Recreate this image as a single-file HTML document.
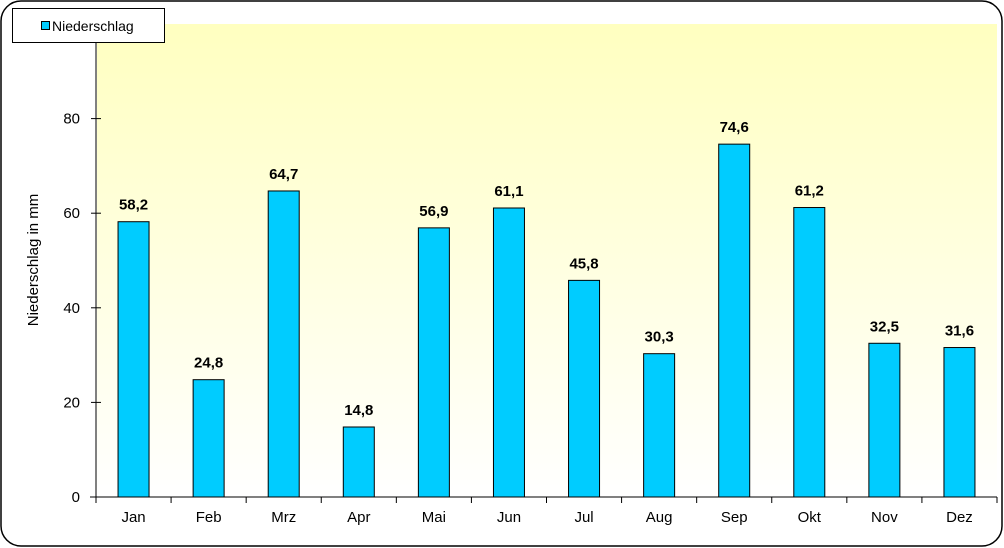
<!DOCTYPE html>
<html><head><meta charset="utf-8"><style>
body{margin:0;background:#fff;}
svg{display:block;font-family:"Liberation Sans",sans-serif;}
</style></head><body>
<svg width="1004" height="548">
<defs><linearGradient id="bg" x1="0" y1="0" x2="0" y2="1"><stop offset="0" stop-color="#ffffc0"/><stop offset="1" stop-color="#ffffff"/></linearGradient></defs>
<rect x="1" y="1" width="1001" height="545" rx="20" fill="#fff" stroke="#000" stroke-width="1.5"/>
<rect x="97" y="24" width="900" height="473" fill="url(#bg)"/>
<g id="bars"></g>
<g id="axes"></g>
<text transform="translate(38,260) rotate(-90)" text-anchor="middle" font-size="15" fill="#000">Niederschlag in mm</text>
<g>
<rect x="12.5" y="8.5" width="152" height="34" fill="#fff" stroke="#000"/>
<rect x="41.5" y="21.5" width="8" height="8" fill="#00ccff" stroke="#000"/>
<text x="52" y="31" font-size="14" fill="#000">Niederschlag</text>
</g>
</svg>
<script>
const categories=["Jan","Feb","Mrz","Apr","Mai","Jun","Jul","Aug","Sep","Okt","Nov","Dez"];
const values=[58.2,24.8,64.7,14.8,56.9,61.1,45.8,30.3,74.6,61.2,32.5,31.6];
const yTicks=[0,20,40,60,80];
const NS="http://www.w3.org/2000/svg";
const x0=96,x1=997,y0=497,yTop=24,yMax=100;
const cw=(x1-x0)/categories.length;
const ys=v=>y0-(y0-yTop)*v/yMax;
const xs=i=>x0+cw*(i+0.5);
function mk(t,a,p){const e=document.createElementNS(NS,t);for(const k in a)e.setAttribute(k,a[k]);p.appendChild(e);return e;}
const bars=document.getElementById('bars'),axes=document.getElementById('axes');
values.forEach((v,i)=>{
 const r=mk('rect',{x:xs(i)-15.5,y:ys(v),width:31,height:y0-ys(v),fill:'#00ccff',stroke:'#000','stroke-width':1},bars);
 
 
 const t=mk('text',{x:xs(i),y:ys(v)-12,'text-anchor':'middle','font-size':15,'font-weight':'bold'},bars);
 t.textContent=v.toFixed(1).replace('.',',');
 
 
});
mk('line',{x1:x0,y1:yTop,x2:x0,y2:y0,stroke:'#000'},axes);
mk('line',{x1:x0-6,y1:y0,x2:x1,y2:y0,stroke:'#000'},axes);
yTicks.forEach(v=>{
 mk('line',{x1:x0-5,y1:ys(v),x2:x0+5,y2:ys(v),stroke:'#000'},axes);
 const t=mk('text',{x:x0-16,y:ys(v)+5,'text-anchor':'end','font-size':15},axes);
 t.textContent=v;
 
 
});
categories.forEach((c,i)=>{
 mk('line',{x1:x0+cw*i,y1:y0,x2:x0+cw*i,y2:y0+6,stroke:'#000'},axes);
 const t=mk('text',{x:xs(i),y:522,'text-anchor':'middle','font-size':15},axes);
 t.textContent=c;
 
 
});
mk('line',{x1:x1,y1:y0,x2:x1,y2:y0+6,stroke:'#000'},axes);
</script>
</body></html>
